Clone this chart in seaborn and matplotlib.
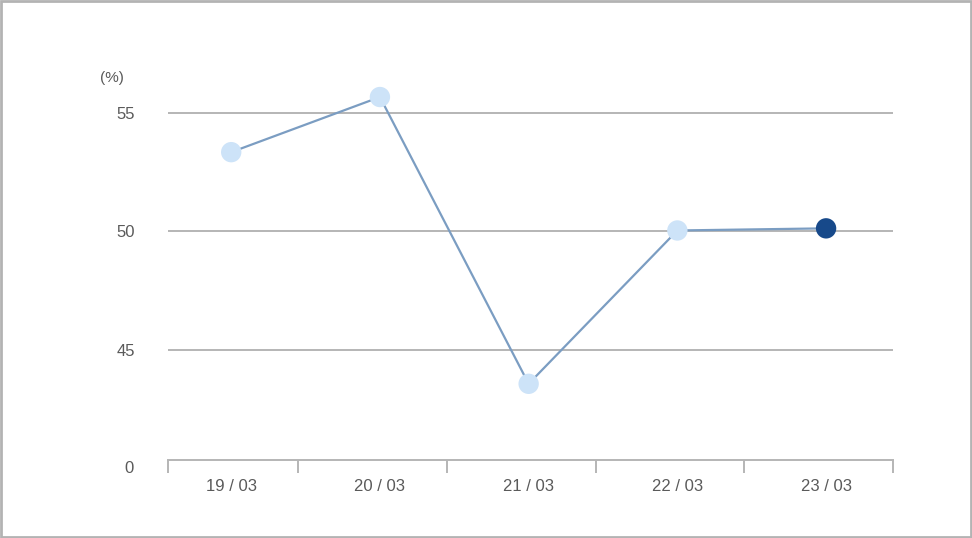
import matplotlib
matplotlib.use("Agg")
import matplotlib.pyplot as plt
import matplotlib.patches as mpatches
import matplotlib.transforms as mtransforms
import seaborn as sns
import pandas as pd

dates = ["19 / 03", "20 / 03", "21 / 03", "22 / 03", "23 / 03"]
values = [53.35, 55.68, 43.56, 50.04, 50.13]
ytick_vals = [45, 50, 55]
ytick_labels = ["45", "50", "55"]

sns.set_theme(style="white")
plt.rcParams["font.family"] = ["Liberation Sans", "DejaVu Sans"]

df = pd.DataFrame({"x": range(len(dates)), "date": dates, "value": values})
df["highlight"] = ["old"] * (len(dates) - 1) + ["last"]

fig = plt.figure(figsize=(9.72, 5.38), dpi=100)
W, H = 972, 538
left, right, bottom, top = 168, 893, 460, 40
ax = fig.add_axes([left / W, 1 - bottom / H, (right - left) / W, (bottom - top) / H])

text_color = "#5a5a5a"
grid_color = "#b5b5b5"

for v in ytick_vals:
    ax.axhline(v, color=grid_color, lw=1.4, zorder=1)

sns.lineplot(data=df, x="x", y="value", ax=ax, color="#7b9dc2", lw=1.6, zorder=2)
sns.scatterplot(data=df, x="x", y="value", hue="highlight",
                palette={"old": "#cde3f8", "last": "#17498a"},
                s=215, edgecolor="none", legend=False, ax=ax, zorder=3)

ax.set_xlim(-0.425, 4.45)
ax.set_ylim(40.34, 58.09)
ax.set_xlabel("")
ax.set_ylabel("")

ax.set_yticks(ytick_vals)
ax.set_yticklabels(ytick_labels)
ax.tick_params(axis="y", length=0, pad=24, labelsize=12, labelcolor=text_color)

ax.set_xticks(range(len(dates)))
ax.set_xticklabels(dates)
ax.set_xticks([-0.425, 0.45, 1.45, 2.45, 3.45, 4.45], minor=True)
ax.tick_params(axis="x", which="major", length=0, pad=13.5, labelsize=12, labelcolor=text_color)
ax.tick_params(axis="x", which="minor", length=9.5, width=1.4, color=grid_color, bottom=True)

for s in ["top", "right", "left"]:
    ax.spines[s].set_visible(False)
ax.spines["bottom"].set_color(grid_color)
ax.spines["bottom"].set_linewidth(1.4)

trans = mtransforms.blended_transform_factory(fig.transFigure, ax.transData)
ax.text(134 / W, 40.0, "0", transform=trans, ha="right", va="center",
        fontsize=12, color=text_color, clip_on=False)
fig.text(112 / W, 1 - 78 / H, "(%)", ha="center", va="center", fontsize=11, color=text_color)

fig.patches.append(mpatches.Rectangle((0.001, 0.001), 0.998, 0.997, transform=fig.transFigure,
                                      fill=False, edgecolor="#b3b3b3", lw=2))

fig.savefig("out.png", dpi=100, facecolor="white")
